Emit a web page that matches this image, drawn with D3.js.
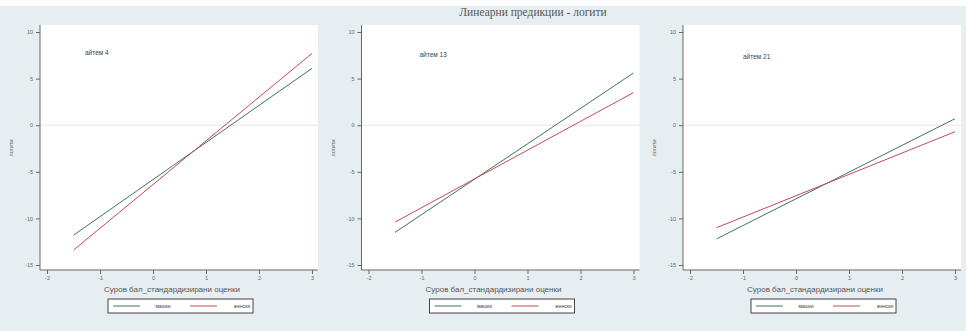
<!DOCTYPE html>
<meta charset="utf-8">
<style>
  body { margin: 0; background: #fff; }
  text { font-family: "Liberation Sans", Arial, sans-serif; fill: #333; }
</style>
<body>
<script src="https://d3js.org/d3.v7.min.js"></script>
<script>

var width = 966,
    height = 331;

// data
var title = "Линеарни предикции - логити";
var items = ["айтем 4", "айтем 13", "айтем 21"];
var seriesNames = ["машки", "женски"];
var xEnds = [-1.5, 3];
var male = [[-11.8, 6.1], [-11.5, 5.6], [-12.2, 0.7]];
var female = [[-13.4, 7.7], [-10.4, 3.5], [-11.0, -0.7]];
var xTicks = [-2, -1, 0, 1, 2, 3];
var yTicks = [10, 5, 0, -5, -10, -15];
var xTitle = "Суров бал_стандардизирани оценки";
var yTitle = "логити";

var colors = ["#3d7560", "#c44a55"];

var svg = d3.select("body").append("svg")
    .attr("width", width)
    .attr("height", height);

svg.append("rect")
    .attr("x", 0).attr("y", 6)
    .attr("width", width).attr("height", height - 6)
    .attr("fill", "#e7eef1");

svg.append("text")
    .attr("x", 533).attr("y", 16)
    .attr("text-anchor", "middle")
    .style("font-family", "'Liberation Serif', serif")
    .style("font-size", "11.5px")
    .style("fill", "#555")
    .text(title);

var panelW = 321.5;
var fmt = function(d) { return String(d); };

var x = d3.scaleLinear().domain([-2, 3]).range([47, 312]);
var y = d3.scaleLinear().domain([-15, 10]).range([265, 32]);

items.forEach(function(item, i) {
    var g = svg.append("g").attr("transform", "translate(" + (i * panelW) + ",0)");

    // plot region
    g.append("rect")
        .attr("x", 40).attr("y", 25)
        .attr("width", 278).attr("height", 245)
        .attr("fill", "#fff");

    // faint line at zero
    g.append("line")
        .attr("x1", 41).attr("x2", 318)
        .attr("y1", y(0)).attr("y2", y(0))
        .attr("stroke", "#f3e1e3")
        .attr("stroke-width", 1);

    var yAxis = g.append("g")
        .attr("transform", "translate(40,0)")
        .call(d3.axisLeft(y).tickValues(yTicks).tickFormat(fmt).tickSize(4).tickPadding(3));
    yAxis.select(".domain").attr("d", "M0,25V270").attr("stroke", "#666");
    yAxis.selectAll(".tick line").attr("stroke", "#666");
    yAxis.selectAll("text").style("font-size", "5.5px").style("fill", "#666");

    var xAxis = g.append("g")
        .attr("transform", "translate(0,270)")
        .call(d3.axisBottom(x).tickValues(xTicks).tickFormat(fmt).tickSize(4).tickPadding(2));
    xAxis.select(".domain").attr("d", "M40,0H318").attr("stroke", "#666");
    xAxis.selectAll(".tick line").attr("stroke", "#666");
    xAxis.selectAll("text").style("font-size", "5.5px").style("fill", "#666");

    g.append("text")
        .attr("transform", "translate(13,148) rotate(-90)")
        .attr("text-anchor", "middle")
        .style("font-size", "5.5px")
        .style("fill", "#666")
        .text(yTitle);

    g.append("text")
        .attr("x", 172).attr("y", 292)
        .attr("text-anchor", "middle")
        .style("font-size", "8px")
        .style("fill", "#555")
        .text(xTitle);

    g.append("text")
        .attr("x", [85, 98, 100][i]).attr("y", [55, 57, 59][i])
        .style("font-size", "6.5px")
        .style("fill", "#444")
        .text(item);

    var line = d3.line()
        .x(function(d) { return x(d[0]); })
        .y(function(d) { return y(d[1]); });

    [male[i], female[i]].forEach(function(vals, s) {
        g.append("path")
            .datum(xEnds.map(function(xv, k) { return [xv, vals[k]]; }))
            .attr("d", line)
            .attr("fill", "none")
            .attr("stroke", colors[s])
            .attr("stroke-width", 1);
    });

    // legend
    var lg = g.append("g").attr("transform", "translate(108,299)");
    lg.append("rect")
        .attr("width", 145).attr("height", 14)
        .attr("fill", "#fff")
        .attr("stroke", "#444")
        .attr("stroke-width", 1);
    seriesNames.forEach(function(name, s) {
        lg.append("line")
            .attr("x1", 5 + s * 77).attr("x2", 32 + s * 77)
            .attr("y1", 7).attr("y2", 7)
            .attr("stroke", colors[s]);
        lg.append("text")
            .attr("x", 55 + s * 79).attr("y", 9)
            .attr("text-anchor", "middle")
            .style("font-size", "5px")
            .style("fill", "#444")
            .text(name);
    });
});

</script>
